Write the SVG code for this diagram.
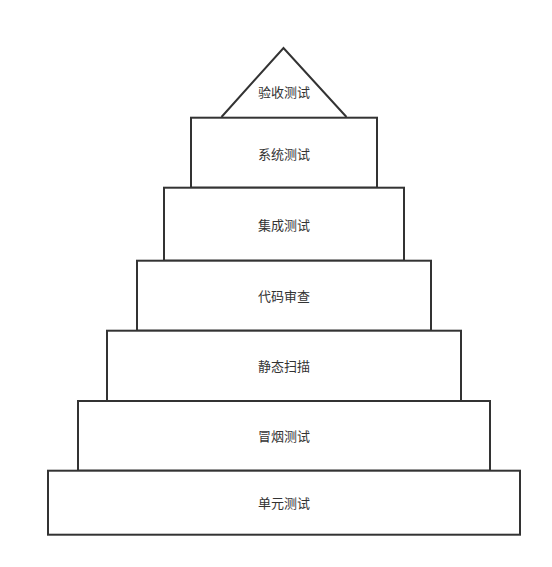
<svg xmlns="http://www.w3.org/2000/svg" width="552" height="567" viewBox="0 0 552 567">
<style>
.s{fill:#fff;stroke:#333;stroke-width:2}
.t{font-family:"Liberation Sans","Noto Sans CJK SC",sans-serif;font-size:13px;fill:#333;text-anchor:middle;dominant-baseline:central}
</style>
<rect width="552" height="567" fill="#fff"/>
<g id="n7"><path class="s" d="M221.5 117 L283.5 48 L346.5 117"/><text class="t" x="284" y="92">验收测试</text></g>
<g id="n1"><rect class="s" x="191" y="117.7" width="186" height="70"/><text class="t" x="284" y="154">系统测试</text></g>
<g id="n2"><rect class="s" x="164" y="187.7" width="240" height="73"/><text class="t" x="284" y="225">集成测试</text></g>
<g id="n3"><rect class="s" x="137" y="260.7" width="294" height="70"/><text class="t" x="284" y="296">代码审查</text></g>
<g id="n4"><rect class="s" x="107" y="330.7" width="354" height="70.3"/><text class="t" x="284" y="366">静态扫描</text></g>
<g id="n5"><rect class="s" x="78" y="401" width="412" height="69.7"/><text class="t" x="284" y="436">冒烟测试</text></g>
<g id="n6"><rect class="s" x="48" y="470.7" width="472" height="64"/><text class="t" x="284" y="503">单元测试</text></g>
<g id="connectors"/>
</svg>
